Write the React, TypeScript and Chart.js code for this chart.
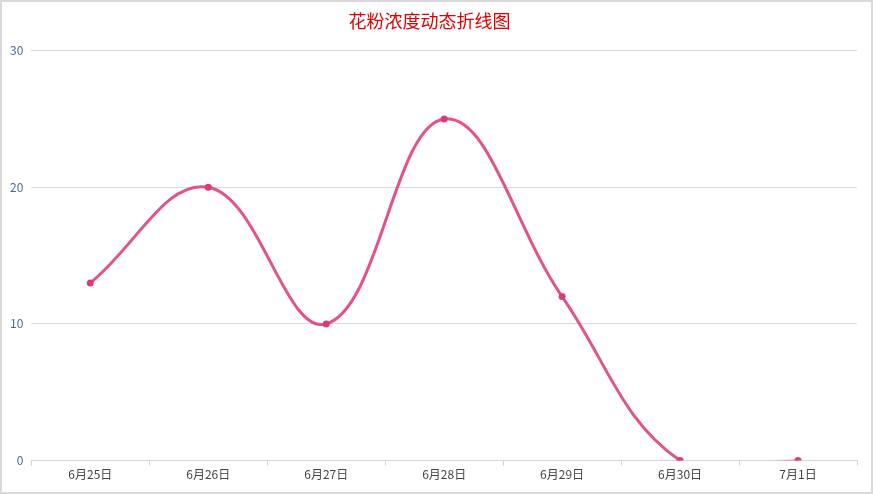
import { useRef, useEffect } from "react";
import Chart from "chart.js/auto";
import type { Chart as ChartJS } from "chart.js";

const chartTitle = "花粉浓度动态折线图";
const dates = ["6月25日", "6月26日", "6月27日", "6月28日", "6月29日", "6月30日", "7月1日"];
const pollenValues = [13, 20, 10, 25, 12, 0, 0];
const yTicks = [0, 10, 20, 30];

const LINE = "#e2528c";
const POINT = "#d93a7b";
const FONT = "'Noto Sans CJK SC', 'Noto Sans', sans-serif";

export default function App() {
  const canvasRef = useRef<HTMLCanvasElement | null>(null);
  const chartRef = useRef<ChartJS | null>(null);

  useEffect(() => {
    document.body.style.margin = "0";
    if (!canvasRef.current) return;
    if (chartRef.current) chartRef.current.destroy();

    chartRef.current = new Chart(canvasRef.current, {
      type: "line",
      data: {
        labels: dates,
        datasets: [
          {
            data: pollenValues,
            borderColor: LINE,
            borderWidth: 3,
            tension: 0.4,
            pointRadius: 3.5,
            pointBackgroundColor: POINT,
            pointBorderColor: POINT,
            pointBorderWidth: 0,
            segment: {
              // the flat tail fades in before the last point
              borderColor: (ctx: any) => {
                if (ctx.p1DataIndex !== dates.length - 1) return undefined;
                const g = ctx.chart.ctx.createLinearGradient(ctx.p1.x - 25, 0, ctx.p1.x, 0);
                g.addColorStop(0, "rgba(226,82,140,0)");
                g.addColorStop(1, LINE);
                return g;
              },
              borderWidth: (ctx: any) => (ctx.p1DataIndex === dates.length - 1 ? 1.5 : undefined),
            },
          },
        ],
      },
      options: {
        responsive: false,
        animation: false,
        layout: { padding: { left: 0, right: 14, top: 0, bottom: 8 } },
        plugins: {
          legend: { display: false },
          tooltip: { enabled: false },
          title: {
            display: true,
            text: chartTitle,
            color: "#e00000",
            font: { family: FONT, size: 18, weight: "normal" },
            padding: { top: 8, bottom: 19 },
          },
        },
        scales: {
          x: {
            offset: true,
            grid: {
              offset: true,
              drawOnChartArea: false,
              drawTicks: true,
              tickLength: 5,
              color: "#d4d4d4",
            },
            border: { display: true, color: "#d4d4d4" },
            ticks: {
              color: "#444",
              font: { family: FONT, size: 12 },
              padding: 2,
              maxRotation: 0,
            },
          },
          y: {
            min: yTicks[0],
            max: yTicks[yTicks.length - 1],
            afterBuildTicks: (axis: any) => {
              axis.ticks = yTicks.map((v) => ({ value: v }));
            },
            grid: { color: "#d9d9d9", drawTicks: false },
            border: { display: false },
            ticks: {
              color: "#4a6a92",
              font: { family: FONT, size: 12 },
              padding: 8,
            },
          },
        },
      },
    });

    return () => chartRef.current?.destroy();
  }, []);

  return (
    <div
      style={{
        width: 873,
        height: 494,
        boxSizing: "border-box",
        border: "2px solid #d9d9d9",
        background: "#fff",
      }}
    >
      <canvas ref={canvasRef} width={869} height={490} />
    </div>
  );
}
